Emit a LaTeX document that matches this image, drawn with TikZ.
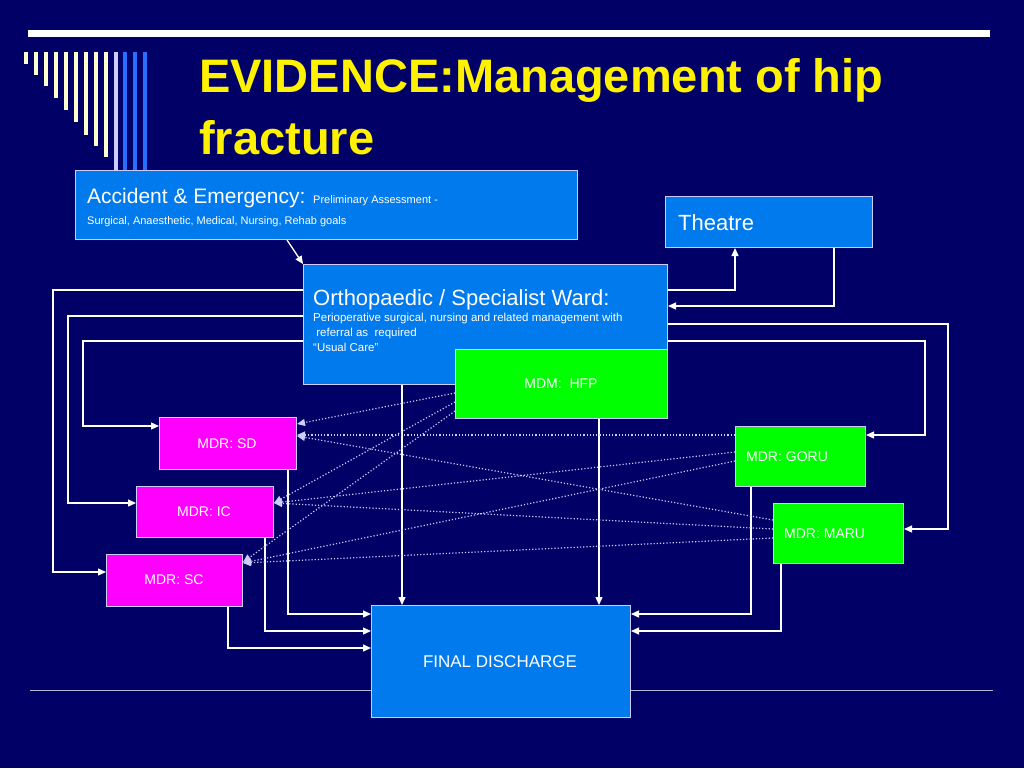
\documentclass[tikz,border=0pt]{standalone}
\usepackage{fontspec}
\setmainfont{Liberation Sans}
\usetikzlibrary{arrows.meta,calc}
\definecolor{bg}{RGB}{0,0,102}
\definecolor{bbox}{RGB}{0,122,236}
\definecolor{gbox}{RGB}{0,255,0}
\definecolor{mbox}{RGB}{255,0,255}
\definecolor{edge}{RGB}{204,204,255}
\definecolor{cream}{RGB}{255,255,204}
\definecolor{barblue}{RGB}{40,110,255}
\begin{document}
\begin{tikzpicture}[x=1pt,y=-1pt,
  box/.style={draw=edge,line width=1pt,inner sep=0pt,anchor=north west},
  lbl/.style={text=white,inner sep=0pt},
  conn/.style={draw=white,line width=1.3pt,-{Triangle[length=8pt,width=7pt]}},
  dot/.style={draw=edge,line width=1.2pt,dotted,-{Triangle[length=8pt,width=7pt]}}]
\useasboundingbox[fill=bg] (0,0) rectangle (1024,768);
% decoration
\fill[white] (28,30) rectangle (990,37);
\draw[edge!70!gray,line width=1pt] (30,690) -- (993,690);
\foreach \x/\b in {24/64,34/75,44/86,54/98,64/110,74/122,84/135,94/146,104/157}
  \fill[cream] (\x,52) rectangle (\x+4,\b);
\fill[edge] (114,52) rectangle (118,170);
\foreach \x in {123,133,143} \fill[barblue] (\x,52) rectangle (\x+4,170);
% title
\node[anchor=west,text=yellow,font=\fontsize{47}{56}\selectfont\bfseries,inner sep=0pt] (t1) at (199,80) {EVIDENCE:Management of hip};
\node[anchor=west,text=yellow,font=\fontsize{47}{56}\selectfont\bfseries,inner sep=0pt] (t2) at (199,138) {fracture};
% boxes
\node[box,fill=bbox,minimum width=502pt,minimum height=69pt] (ae) at (75,170) {};
\node[lbl,anchor=base west] (aet) at (87,203) {\fontsize{21}{24}\selectfont Accident \& Emergency: \fontsize{11}{13}\selectfont Preliminary Assessment -};
\node[lbl,anchor=base west,font=\fontsize{11}{13}\selectfont] (aet2) at (87,224) {Surgical, Anaesthetic, Medical, Nursing, Rehab goals};
\node[box,fill=bbox,minimum width=207pt,minimum height=51pt] (th) at (665,196) {};
\node[lbl,anchor=base west,font=\fontsize{22}{26}\selectfont] (tht) at (678,230) {Theatre};
\node[box,fill=bbox,minimum width=364pt,minimum height=120pt] (or) at (303,264) {};
\node[lbl,anchor=base west,font=\fontsize{22}{26}\selectfont] (ort) at (313,305) {Orthopaedic / Specialist Ward:};
\node[lbl,anchor=north west,align=left,font=\fontsize{11.5}{15}\selectfont] (ors) at (313,313) {Perioperative surgical, nursing and related management with\\\ referral as\ \ required\\``Usual Care''};
\node[box,fill=gbox,minimum width=212pt,minimum height=69pt] (mdm) at (455,349) {};
\node[lbl,font=\fontsize{14}{16}\selectfont] at (561,384) {MDM:\ \ HFP};
\node[box,fill=mbox,minimum width=137pt,minimum height=52pt] (sd) at (159,417) {};
\node[lbl,font=\fontsize{14}{16}\selectfont] at (227,444) {MDR: SD};
\node[box,fill=mbox,minimum width=137pt,minimum height=51pt] (ic) at (136,486) {};
\node[lbl,font=\fontsize{14}{16}\selectfont] at (204,512) {MDR: IC};
\node[box,fill=mbox,minimum width=136pt,minimum height=52pt] (sc) at (106,554) {};
\node[lbl,font=\fontsize{14}{16}\selectfont] at (174,580) {MDR: SC};
\node[box,fill=gbox,minimum width=130pt,minimum height=60pt] (go) at (735,426) {};
\node[lbl,anchor=west,font=\fontsize{14}{16}\selectfont] at (746,457) {MDR: GORU};
\node[box,fill=gbox,minimum width=130pt,minimum height=60pt] (ma) at (773,503) {};
\node[lbl,anchor=west,font=\fontsize{14}{16}\selectfont] at (784,534) {MDR: MARU};
\node[box,fill=bbox,minimum width=259pt,minimum height=112pt] (fd) at (371,605) {};
\node[lbl,font=\fontsize{17}{20}\selectfont] at (500,662) {FINAL DISCHARGE};
% solid connectors
\draw[conn] (ae.south -| 287,0) -- (or.north -| 303,0);
\draw[conn] (or.east |- 0,290) -- (735,290) -- (th.south -| 735,0);
\draw[conn] (th.south -| 834,0) -- (834,306) -- (or.east |- 0,306);
\draw[conn] (or.east |- 0,324) -- (948,324) -- (948,529) -- (ma.east |- 0,529);
\draw[conn] (or.east |- 0,341) -- (925,341) -- (925,435) -- (go.east |- 0,435);
\draw[conn] (or.west |- 0,290) -- (53,290) -- (53,572) -- (sc.west |- 0,572);
\draw[conn] (or.west |- 0,316) -- (68,316) -- (68,503) -- (ic.west |- 0,503);
\draw[conn] (or.west |- 0,341) -- (83,341) -- (83,426) -- (sd.west |- 0,426);
\draw[conn] (or.south -| 402,0) -- (fd.north -| 402,0);
\draw[conn] (mdm.south -| 599,0) -- (fd.north -| 599,0);
\draw[conn] (sd.south -| 288,0) -- (288,614) -- (fd.west |- 0,614);
\draw[conn] (ic.south -| 265,0) -- (265,631) -- (fd.west |- 0,631);
\draw[conn] (sc.south -| 228,0) -- (228,648) -- (fd.west |- 0,648);
\draw[conn] (go.south -| 751,0) -- (751,614) -- (fd.east |- 0,614);
\draw[conn] (ma.south -| 781,0) -- (781,631) -- (fd.east |- 0,631);
% dotted connectors
\draw[dot] (mdm.west |- 0,393) -- (sd.east |- 0,424);
\draw[dot] (mdm.west |- 0,402) -- (ic.east |- 0,503);
\draw[dot] (mdm.west |- 0,411) -- (sc.east |- 0,562);
\draw[dot] (go.west |- 0,435) -- (sd.east |- 0,435);
\draw[dot] (go.west |- 0,452) -- (ic.east |- 0,503);
\draw[dot] (go.west |- 0,461) -- (sc.east |- 0,563);
\draw[dot] (ma.west |- 0,520) -- (sd.east |- 0,436);
\draw[dot] (ma.west |- 0,529) -- (ic.east |- 0,503);
\draw[dot] (ma.west |- 0,538) -- (sc.east |- 0,563);
\end{tikzpicture}
\end{document}
